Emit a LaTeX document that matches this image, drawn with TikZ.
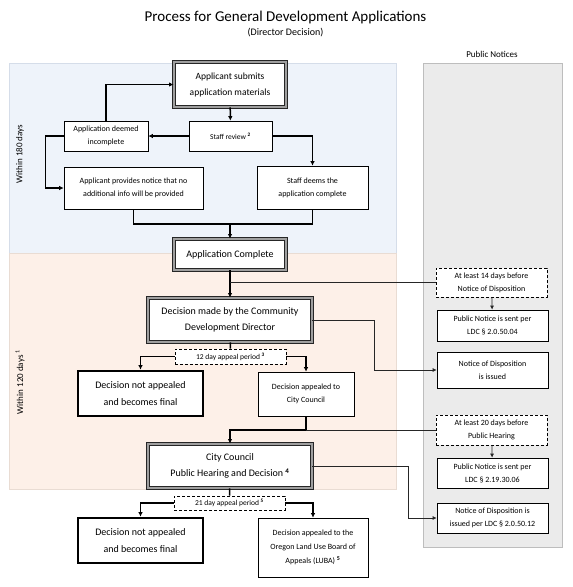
\documentclass[tikz,border=0pt]{standalone}
\usepackage{fontspec}
\setmainfont{Carlito}
\usetikzlibrary{arrows.meta}

\definecolor{phaseblue}{HTML}{EEF3FA}
\definecolor{phasebluerule}{HTML}{D5DDE9}
\definecolor{phasepeach}{HTML}{FDF0E8}
\definecolor{phasepeachrule}{HTML}{E9DCD3}
\definecolor{noticegray}{HTML}{EBEBEB}
\definecolor{noticegrayrule}{HTML}{BDBDBD}

\tikzset{
  box/.style={draw, fill=white, line width=0.6pt, align=center, inner sep=2pt,
    font=\fontsize{8}{13}\selectfont},
  keybox/.style={box, draw=black!85, double=gray!75, double distance=1.3pt,
    line width=0.9pt, font=\fontsize{10}{16.5}\selectfont},
  finalbox/.style={box, line width=2.6pt, font=\fontsize{10}{16.5}\selectfont},
  periodbox/.style={box, dash pattern=on 3pt off 2pt, font=\fontsize{7.5}{10}\selectfont},
  flow/.style={line width=1.5pt, -{Latex[length=4.5pt,width=4.5pt]}},
  flowline/.style={line width=1.5pt},
  notice/.style={line width=0.75pt, black!85},
  noticeflow/.style={notice, -{Latex[length=4pt,width=4pt]}},
}

\begin{document}
\begin{tikzpicture}[x=1pt,y=-1pt]
\useasboundingbox (0,0) rectangle (573,587);
% phase backgrounds
\filldraw[fill=phaseblue, draw=phasebluerule] (9,63) rectangle (396,253);
\filldraw[fill=phasepeach, draw=phasepeachrule] (9,253) rectangle (396,489);
\filldraw[fill=noticegray, draw=noticegrayrule] (423,63) rectangle (562,547);

\path node (title) at (285.5,17) {\fontsize{15}{18}\selectfont Process for General Development Applications}
node (subtitle) at (285.5,33) {\fontsize{10}{12}\selectfont (Director Decision)}
node (notices) at (492,54) {\fontsize{9}{11}\selectfont Public Notices}
node[rotate=90, font=\fontsize{9}{11}\selectfont] (days180) at (20,154) {Within 180 days}
node[rotate=90, font=\fontsize{9}{11}\selectfont] (days120) at (20,382) {Within 120 days \textsuperscript{1}}
;

% main flow
\path node[keybox, minimum width=112pt, minimum height=45pt, font=\fontsize{9.5}{16}\selectfont] (submit) at (230,84.5) {Applicant submits\\application materials}
node[box, minimum width=83pt, minimum height=30pt, font=\fontsize{7.5}{11}\selectfont] (review) at (230.5,136) {Staff review \textsuperscript{\textbf{2}}}
node[box, minimum width=84pt, minimum height=30pt] (incomplete) at (106,136) {Application deemed\\incomplete}
node[box, minimum width=139pt, minimum height=42pt] (noinfo) at (133.5,188) {Applicant provides notice that no\\additional info will be provided}
node[box, minimum width=111pt, minimum height=43pt] (deemed) at (312.5,187.5) {Staff deems the\\application complete}
node[keybox, minimum width=112pt, minimum height=31pt] (complete) at (230,254.5) {Application Complete}
node[keybox, minimum width=164pt, minimum height=44pt] (director) at (230,320) {Decision made by the Community\\Development Director}
node[periodbox, minimum width=111pt, minimum height=15pt] (appeal12) at (230.5,356.5) {12 day appeal period \textsuperscript{\textbf{3}}}
node[finalbox, minimum width=125pt, minimum height=45pt] (final1) at (140.5,393.5) {Decision not appealed\\and becomes final}
node[box, minimum width=96pt, minimum height=44pt] (tocouncil) at (306,394) {Decision appealed to\\City Council}
node[keybox, minimum width=164pt, minimum height=44pt] (council) at (230,466) {City Council\\Public Hearing and Decision \textsuperscript{\textbf{4}}}
node[periodbox, minimum width=111pt, minimum height=14pt] (appeal21) at (229.5,503) {21 day appeal period \textsuperscript{\textbf{5}}}
node[finalbox, minimum width=125pt, minimum height=45pt] (final2) at (140.5,540.5) {Decision not appealed\\and becomes final}
node[box, minimum width=110pt, minimum height=59pt, font=\fontsize{8}{14}\selectfont] (luba) at (313,547.5) {Decision appealed to the\\Oregon Land Use Board of\\Appeals (LUBA) \textsuperscript{\textbf{5}}}
;

% public notices
\path node[periodbox, minimum width=111pt, minimum height=29pt, font=\fontsize{8}{13}\selectfont] (before14) at (491.5,282.5) {At least 14 days before\\Notice of Disposition}
node[box, minimum width=111pt, minimum height=31pt] (notice1) at (492.5,325.5) {Public Notice is sent per\\LDC \S\ 2.0.50.04}
node[box, minimum width=111pt, minimum height=36pt] (dispo1) at (492.5,370) {Notice of Disposition\\is issued}
node[periodbox, minimum width=111pt, minimum height=30pt, font=\fontsize{8}{13}\selectfont] (before20) at (491.5,430) {At least 20 days before\\Public Hearing}
node[box, minimum width=111pt, minimum height=30pt] (notice2) at (492.5,473) {Public Notice is sent per\\LDC \S\ 2.19.30.06}
node[box, minimum width=111pt, minimum height=30pt] (dispo2) at (492.5,518) {Notice of Disposition is\\issued per LDC \S\ 2.0.50.12}
;

\coordinate (join1) at (230,224);
\coordinate (join2) at (complete.south |- before14.west);
\coordinate (join3) at (council.north |- before20.west);
\coordinate (join4) at (tocouncil.south |- before20.west);

\draw[flow] (submit) -- (review);
\draw[flow] (review) -- (incomplete);
\draw[flow] (incomplete.north) |- (submit.west);
\draw[flow] (incomplete.west) -- ++(-18,0) |- (noinfo.west);
\draw[flow] (review.east) -| (deemed.north);
\draw[flowline] (noinfo.south) |- (join1);
\draw[flowline] (deemed.south) |- (join1);
\draw[flow] (join1) -- (complete.north);
\draw[flow] (complete) -- (director);
\draw[flowline] (director) -- (appeal12);
\draw[flow] (appeal12.west) -| (final1.north);
\draw[flow] (appeal12.east) -| (tocouncil.north);
\draw[flow] (tocouncil.south) |- (join3) -- (council.north);
\draw[flowline] (council) -- (appeal21);
\draw[flow] (appeal21.west) -| (final2.north);
\draw[flow] (appeal21.east) -| (luba.north);

\draw[notice] (join2) -- (before14.west);
\draw[noticeflow] (before14) -- (notice1);
\draw[noticeflow] (director.east) -- ++(62,0) |- (dispo1.west);
\draw[notice] (join4) -- (before20.west);
\draw[noticeflow] (before20) -- (notice2);
\draw[noticeflow] (council.east) -- ++(96,0) |- (dispo2.west);
\end{tikzpicture}
\end{document}
